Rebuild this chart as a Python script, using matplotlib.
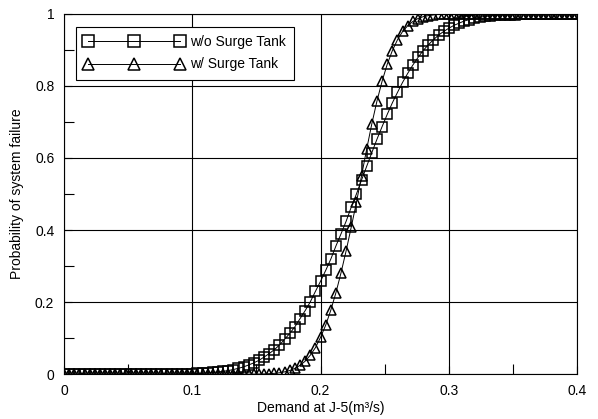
import matplotlib
matplotlib.use('Agg')
import matplotlib.pyplot as plt
import numpy as np
from matplotlib.ticker import MultipleLocator

plt.rcParams['font.family'] = ['Liberation Sans', 'DejaVu Sans']

# demand at J-5 (m3/s), every 0.004
demand = np.linspace(0.0, 0.4, 101)

# probability of failure without surge tank
p_without = [
    0.0, 0.0, 0.0, 0.0, 0.0, 0.0, 0.0, 0.0, 0.0, 0.0,
    0.0, 0.0, 0.0, 0.0, 0.0, 0.0, 0.0001, 0.0001, 0.0002, 0.0002,
    0.0003, 0.0004, 0.0006, 0.0008, 0.0011, 0.0015, 0.002, 0.0026, 0.0035, 0.0047,
    0.006, 0.0078, 0.0099, 0.0129, 0.0162, 0.0202, 0.0256, 0.0314, 0.0384, 0.0475,
    0.0571, 0.0681, 0.0808, 0.0968, 0.1131, 0.1314, 0.1539, 0.1762, 0.2005, 0.2296,
    0.2578, 0.2877, 0.3192, 0.3557, 0.3897, 0.4247, 0.4641, 0.5, 0.539, 0.577,
    0.615, 0.652, 0.687, 0.721, 0.753, 0.782, 0.81, 0.835, 0.858, 0.879,
    0.898, 0.914, 0.928, 0.941, 0.951, 0.96, 0.968, 0.974, 0.98, 0.984,
    0.988, 0.99, 0.993, 0.994, 0.996, 0.997, 0.997, 0.998, 0.998, 0.999,
    0.999, 0.999, 0.999, 1.0, 1.0, 1.0, 1.0, 1.0, 1.0, 1.0,
    1.0,
]

# probability of failure with surge tank
p_with = [
    0.0, 0.0, 0.0, 0.0, 0.0, 0.0, 0.0, 0.0, 0.0, 0.0,
    0.0, 0.0, 0.0, 0.0, 0.0, 0.0, 0.0, 0.0, 0.0, 0.0,
    0.0, 0.0, 0.0, 0.0, 0.0, 0.0, 0.0, 0.0, 0.0, 0.0,
    0.0, 0.0, 0.0, 0.0, 0.0, 0.0001, 0.0001, 0.0002, 0.0004, 0.0007,
    0.0013, 0.0023, 0.0038, 0.0064, 0.0102, 0.0162, 0.0244, 0.0359, 0.0526, 0.0735,
    0.102, 0.1357, 0.1775, 0.226, 0.2816, 0.343, 0.409, 0.477, 0.551, 0.625,
    0.695, 0.758, 0.813, 0.86, 0.898, 0.928, 0.951, 0.967, 0.979, 0.987,
    0.992, 0.995, 0.997, 0.999, 0.999, 1.0, 1.0, 1.0, 1.0, 1.0,
    1.0, 1.0, 1.0, 1.0, 1.0, 1.0, 1.0, 1.0, 1.0, 1.0,
    1.0, 1.0, 1.0, 1.0, 1.0, 1.0, 1.0, 1.0, 1.0, 1.0,
    1.0,
]

xticks = [0, 0.1, 0.2, 0.3, 0.4]
xticklabels = ['0', '0.1', '0.2', '0.3', '0.4']
yticks = [0, 0.2, 0.4, 0.6, 0.8, 1]
yticklabels = ['0', '0.2', '0.4', '0.6', '0.8', '1']

fig = plt.figure(figsize=(5.98, 4.19), dpi=100)
ax = fig.add_axes([0.107, 0.107, 0.858, 0.860])

ax.plot(demand, p_without, color='black', lw=0.7, marker='s', ms=6.5,
        mfc='none', mec='black', mew=1.1, label='w/o Surge Tank')
ax.plot(demand, p_with, color='black', lw=0.7, marker='^', ms=6.7,
        mfc='none', mec='black', mew=1.1, label='w/ Surge Tank')

ax.set_xlim(0, 0.4)
ax.set_ylim(0, 1)
ax.set_xticks(xticks)
ax.set_xticklabels(xticklabels)
ax.set_yticks(yticks)
ax.set_yticklabels(yticklabels)
ax.xaxis.set_minor_locator(MultipleLocator(0.05))
ax.yaxis.set_minor_locator(MultipleLocator(0.1))
ax.tick_params(which='both', direction='in', labelsize=10, color='black')
ax.tick_params(which='major', length=6, width=0.8, pad=7)
ax.tick_params(which='minor', length=7, width=0.8)
ax.grid(True, which='major', color='black', lw=0.8)
for s in ax.spines.values():
    s.set_linewidth(0.8)

ax.set_xlabel('Demand at J-5(m³/s)', fontsize=10, labelpad=2)
ax.set_ylabel('Probability of system failure', fontsize=10, labelpad=8)

leg = ax.legend(loc='upper left', bbox_to_anchor=(0.023, 0.964), numpoints=3,
                handlelength=7.2, markerscale=1.3, fontsize=10, frameon=True,
                fancybox=False, framealpha=1, edgecolor='black',
                borderpad=0.6, labelspacing=0.6, handletextpad=0.4,
                borderaxespad=0)
leg.get_frame().set_linewidth(0.8)

plt.savefig('out.png', dpi=100)
plt.close()
